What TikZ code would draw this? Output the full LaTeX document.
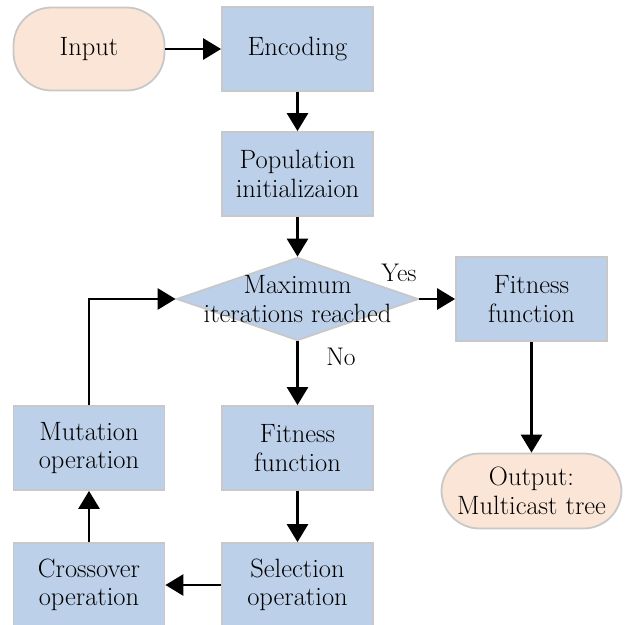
\documentclass[tikz,border=0pt]{standalone}
\usetikzlibrary{shapes.geometric,arrows.meta}
\definecolor{boxblue}{RGB}{189,208,233}
\definecolor{boxpeach}{RGB}{251,229,214}
\definecolor{edgegray}{RGB}{200,200,200}
\tikzset{
  txt/.style={font=\fontsize{26.5}{28.5}\selectfont},
  procbox/.style={txt, draw=edgegray, line width=1.8pt, fill=boxblue, rectangle,
    minimum width=151pt, minimum height=84pt, align=center, inner sep=0pt},
  termbox/.style={txt, draw=edgegray, line width=1.8pt, fill=boxpeach, rectangle,
    rounded corners=38pt, align=center, inner sep=0pt},
  decbox/.style={draw=edgegray, line width=1.8pt, fill=boxblue, diamond,
    minimum width=242pt, minimum height=83pt, aspect=2.9, inner sep=0pt},
  flow/.style={line width=2.8pt, -{Triangle[length=18pt,width=21pt]}},
  tag/.style={font=\fontsize{25.5}{28}\selectfont, inner sep=0pt}
}
\begin{document}
\begin{tikzpicture}[x=1pt,y=-1pt]
\useasboundingbox (0,0) rectangle (626,624);
\node[termbox, minimum width=151pt, minimum height=83pt] (input) at (89,49) {Input};
\node[procbox] (enc) at (297.5,49) {Encoding};
\node[procbox] (pop) at (297.5,174) {Population\\initializaion};
\node[decbox] (dec) at (297.5,299) {};
\node[txt, align=center, inner sep=0pt] (dectext) at (297.5,299) {Maximum\\iterations reached};
\node[procbox] (fitR) at (531.5,299) {Fitness\\function};
\node[termbox, minimum width=180pt, minimum height=75pt] (out) at (531.5,491) {Output:\\Multicast tree};
\node[procbox] (fitM) at (297.5,448) {Fitness\\function};
\node[procbox] (mut) at (89,448) {Mutation\\operation};
\node[procbox] (sel) at (297.5,585) {Selection\\operation};
\node[procbox] (cross) at (89,585) {Crossover\\operation};
\coordinate (bend) at (89,299);

\draw[flow] (input) -- (enc);
\draw[flow] (enc) -- (pop);
\draw[flow] (pop) -- (dec.north);
\draw[flow] (dec.east) -- (fitR);
\draw[flow] (dec.south) -- (fitM);
\draw[flow] (fitR) -- (out);
\draw[flow] (fitM) -- (sel);
\draw[flow] (sel) -- (cross);
\draw[flow] (cross) -- (mut);
\draw[flow] (mut.north) -- (bend) -- (dec.west);

\node[tag] (yes) at (399,273) {Yes};
\node[tag] (no) at (341,357) {No};
\end{tikzpicture}
\end{document}
